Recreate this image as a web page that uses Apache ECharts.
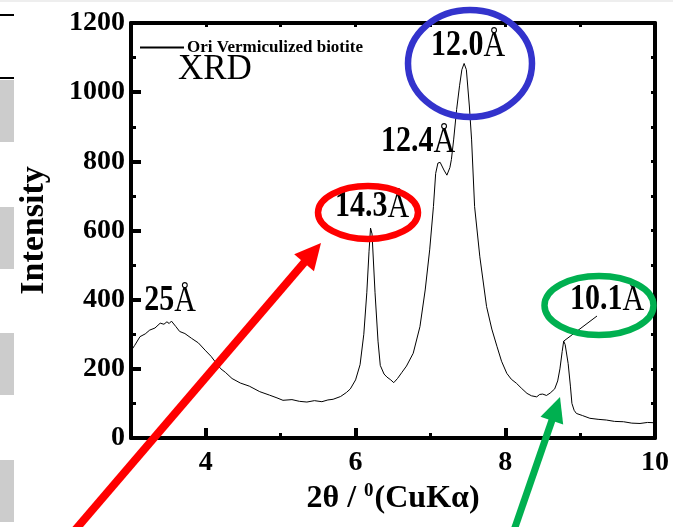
<!DOCTYPE html>
<html>
<head>
<meta charset="utf-8">
<script src="https://cdn.jsdelivr.net/npm/echarts@6/dist/echarts.min.js"></script>
<style>html,body{margin:0;padding:0;background:#fff;}#c{width:673px;height:527px;}</style>
</head>
<body>
<div id="c"></div>
<script>
// ---- data ----
const twoTheta = [3.00,3.05,3.12,3.19,3.25,3.32,3.39,3.44,3.48,3.51,3.54,3.60,3.65,3.72,3.81,3.90,3.99,4.07,4.14,4.20,4.26,4.35,4.46,4.58,4.72,4.85,4.95,5.03,5.15,5.25,5.35,5.45,5.55,5.63,5.70,5.80,5.88,5.93,6.00,6.06,6.11,6.15,6.18,6.20,6.22,6.26,6.30,6.33,6.38,6.42,6.47,6.51,6.56,6.62,6.68,6.77,6.86,6.93,6.99,7.04,7.07,7.10,7.13,7.18,7.22,7.26,7.28,7.31,7.35,7.39,7.42,7.45,7.48,7.52,7.55,7.59,7.66,7.75,7.82,7.89,7.95,8.02,8.08,8.15,8.22,8.29,8.35,8.42,8.46,8.50,8.55,8.60,8.66,8.70,8.73,8.76,8.78,8.80,8.84,8.87,8.89,8.92,8.95,9.03,9.13,9.24,9.35,9.46,9.58,9.69,9.80,9.90,10.0];
const intensity = [252,268,293,301,312,318,332,329,336,331,338,322,308,302,288,275,254,236,216,200,190,172,159,150,134,124,116,109,111,106,104,108,105,110,112,120,132,142,168,212,300,420,540,607,590,420,280,210,185,176,168,160,172,190,208,245,322,428,544,669,765,795,797,775,760,782,805,862,950,1020,1065,1083,1065,960,862,669,524,380,315,264,222,187,170,158,143,129,122,119,126,127,123,130,142,165,200,250,280,270,215,150,100,80,71,65,57,54,52,48,47,43,42,45,44];
const seriesName = 'Ori Vermiculized biotite';
const xLabelValues = [4, 6, 8, 10];
const xMinorValues = [5, 7, 9];
const peakLabels = ['25', '14.3', '12.4', '12.0', '10.1'];
const peak101 = [8.78, 280];

const FONT = '"Liberation Serif","Times New Roman",serif';
const chart = echarts.init(document.getElementById('c'), null, {renderer: 'canvas'});
const data = twoTheta.map((x, i) => [x, intensity[i]]);

const axisLine = {show: true, lineStyle: {color: '#000', width: 4}};
chart.setOption({
  animation: false,
  backgroundColor: '#fff',
  grid: {left: 131, right: 18, top: 23, bottom: 89, containLabel: false},
  legend: {
    left: 135, top: 34, itemWidth: 44, itemHeight: 2, itemGap: 4,
    icon: 'rect',
    textStyle: {fontFamily: FONT, fontWeight: 'bold', fontSize: 17, color: '#000', padding: [0,0,0,-2]},
    data: [seriesName]
  },
  xAxis: [
    {type: 'value', min: 3, max: 10, interval: 1, position: 'bottom',
     name: '2θ / {s|0}(CuKα)', nameLocation: 'middle', nameGap: 44,
     nameTextStyle: {fontFamily: FONT, fontWeight: 'bold', fontSize: 32, color: '#000',
       rich: {s: {fontFamily: FONT, fontWeight: 'bold', fontSize: 19, color: '#000', padding: [0,1,15,0]}}},
     axisLine: axisLine,
     axisTick: {show: true, inside: true, length: 10, lineStyle: {width: 4, color: '#000'}, customValues: xLabelValues},
     axisLabel: {customValues: xLabelValues, fontFamily: FONT, fontWeight: 'bold', fontSize: 28, color: '#000', margin: 11},
     splitLine: {show: false}},
    {type: 'value', min: 3, max: 10, interval: 1, position: 'bottom',
     axisLine: {show: false},
     axisTick: {show: true, inside: true, length: 5, lineStyle: {width: 3, color: '#000'}, customValues: xMinorValues},
     axisLabel: {show: false}, splitLine: {show: false}},
    {type: 'value', min: 3, max: 10, interval: 1, position: 'top',
     axisLine: axisLine,
     axisTick: {show: true, inside: true, length: 4, lineStyle: {width: 3, color: '#000'}},
     axisLabel: {show: false}, splitLine: {show: false}}
  ],
  yAxis: [
    {type: 'value', min: 0, max: 1200, interval: 200, position: 'left',
     name: 'Intensity', nameLocation: 'middle', nameGap: 80,
     nameTextStyle: {fontFamily: FONT, fontWeight: 'bold', fontSize: 34, color: '#000'},
     axisLine: axisLine,
     axisTick: {show: true, inside: true, length: 10, lineStyle: {width: 4, color: '#000'}},
     minorTick: {show: true, splitNumber: 2, length: 5, lineStyle: {width: 3, color: '#000'}},
     axisLabel: {formatter: v => String(v), fontFamily: FONT, fontWeight: 'bold', fontSize: 28, color: '#000', margin: 6},
     splitLine: {show: false}},
    {type: 'value', min: 0, max: 1200, interval: 100, position: 'right',
     axisLine: axisLine,
     axisTick: {show: true, inside: true, length: 4, lineStyle: {width: 3, color: '#000'}},
     axisLabel: {show: false}, splitLine: {show: false}}
  ],
  series: [{
    name: seriesName, type: 'line', xAxisIndex: 0, yAxisIndex: 0,
    data: data, showSymbol: false, symbol: 'none',
    lineStyle: {color: '#000', width: 1}, itemStyle: {color: '#000'}
  }]
});

// ---- annotations ----
function lbl(txt, x, y) {
  return {type: 'text', z: 50, x: x, y: y, scaleY: 1.22, style: {
    text: '{d|' + txt + '}{a|Å}', x: 0, y: 0, align: 'center', verticalAlign: 'middle',
    rich: {d: {fontFamily: FONT, fontWeight: 'bold', fontSize: 30, fill: '#000'},
           a: {fontFamily: FONT, fontWeight: 'normal', fontSize: 30, fill: '#000'}}}};
}
const pk = chart.convertToPixel({xAxisIndex: 0, yAxisIndex: 0}, peak101);
function arrow(tail, tip, w, headL, headW, color) {
  const dx = tip[0]-tail[0], dy = tip[1]-tail[1], L = Math.hypot(dx, dy);
  const ux = dx/L, uy = dy/L, nx = -uy, ny = ux;
  const bx = tip[0]-headL*ux, by = tip[1]-headL*uy;
  return [
    {type: 'line', z: 60, shape: {x1: tail[0], y1: tail[1], x2: bx+ux*2, y2: by+uy*2}, style: {stroke: color, lineWidth: w}},
    {type: 'polygon', z: 60, shape: {points: [[tip[0], tip[1]], [bx+headW*nx, by+headW*ny], [bx-headW*nx, by-headW*ny]]}, style: {fill: color}}
  ];
}
const g = [
  // page artifacts on the left
  {type: 'rect', z: 1, shape: {x: 0, y: 0, width: 673, height: 2}, style: {fill: '#eeeeee'}},
  {type: 'rect', z: 1, shape: {x: 0, y: 14, width: 14, height: 2}, style: {fill: '#000'}},
  {type: 'rect', z: 1, shape: {x: 0, y: 77, width: 14, height: 2}, style: {fill: '#000'}},
  {type: 'rect', z: 1, shape: {x: 0, y: 80, width: 14, height: 62}, style: {fill: '#cccccc'}},
  {type: 'rect', z: 1, shape: {x: 0, y: 207, width: 14, height: 62}, style: {fill: '#cccccc'}},
  {type: 'rect', z: 1, shape: {x: 0, y: 333, width: 14, height: 62}, style: {fill: '#cccccc'}},
  {type: 'rect', z: 1, shape: {x: 0, y: 460, width: 14, height: 62}, style: {fill: '#cccccc'}},
  {type: 'text', z: 50, style: {text: 'XRD', x: 178, y: 70, verticalAlign: 'middle', fontFamily: FONT, fontSize: 35, fill: '#000'}},
  lbl(peakLabels[0], 170, 301),
  lbl(peakLabels[1], 372, 207),
  lbl(peakLabels[2], 418, 142),
  lbl(peakLabels[3], 468, 46),
  lbl(peakLabels[4], 607, 300),
  {type: 'line', z: 50, shape: {x1: pk[0], y1: pk[1], x2: 597, y2: 316}, style: {stroke: '#000', lineWidth: 1}},
  {type: 'ellipse', z: 55, shape: {cx: 470, cy: 63.5, rx: 62, ry: 53.5}, style: {fill: 'none', stroke: '#3333cc', lineWidth: 6.5}},
  {type: 'ellipse', z: 55, shape: {cx: 368, cy: 212.5, rx: 50, ry: 26.5}, style: {fill: 'none', stroke: '#ff0000', lineWidth: 6.5}},
  {type: 'ellipse', z: 55, shape: {cx: 599, cy: 305.5, rx: 54.5, ry: 29.5}, style: {fill: 'none', stroke: '#00b050', lineWidth: 6.5}}
].concat(arrow([70, 536], [321, 243], 8, 26, 13, '#ff0000'))
 .concat(arrow([512, 536], [560, 397], 7, 25, 12, '#00b050'));
chart.setOption({graphic: {elements: g}});
</script>
</body>
</html>
